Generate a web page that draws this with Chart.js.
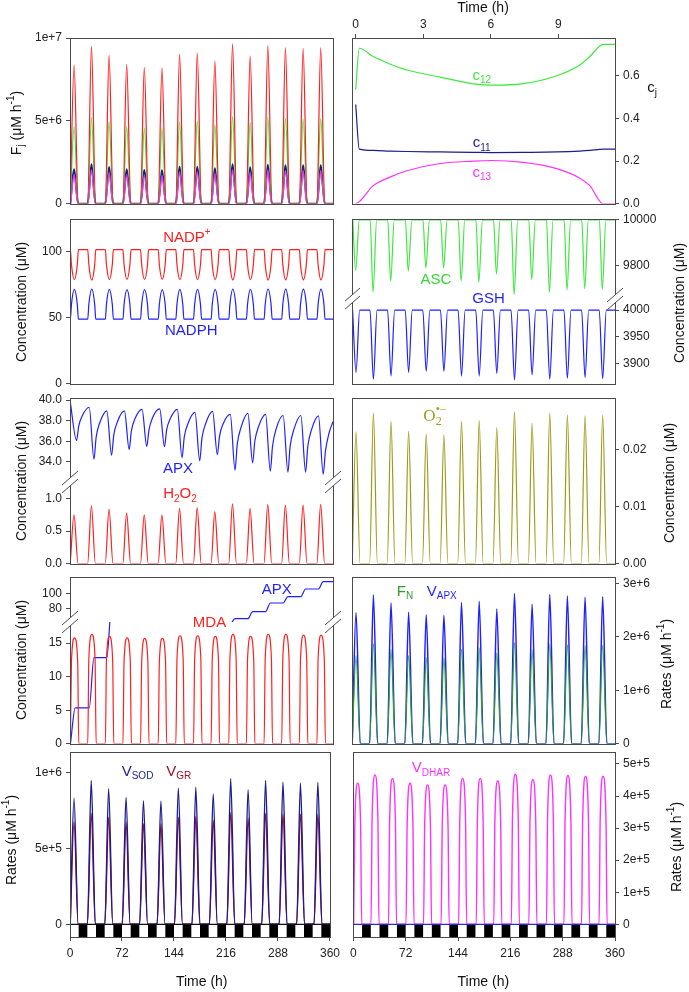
<!DOCTYPE html>
<html>
<head>
<meta charset="utf-8">
<title>Antioxidant cycles</title>
<script src="https://cdn.jsdelivr.net/npm/chart.js@4.4.1/dist/chart.umd.min.js"></script>
<style>
  body { margin: 0; width: 689px; height: 992px; background: #fff; position: relative; overflow: hidden; }
  canvas { position: absolute; }
</style>
</head>
<body>
<canvas id="p1l"></canvas>
<canvas id="p1r"></canvas>
<canvas id="p2l"></canvas>
<canvas id="p2r"></canvas>
<canvas id="p3l"></canvas>
<canvas id="p3r"></canvas>
<canvas id="p4l"></canvas>
<canvas id="p4r"></canvas>
<canvas id="p5l"></canvas>
<canvas id="p5r"></canvas>
<script>
Chart.defaults.font.family = "'Liberation Sans', Arial, sans-serif";
Chart.defaults.font.size = 12;
Chart.defaults.color = '#222';

// light / dark schedule (h)
const lightOn  = [0, 24, 48, 72, 96, 120, 144, 168, 192, 216, 240, 264, 288, 312, 336];
const darkOn   = [12, 36, 60, 84, 108, 132, 156, 180, 204, 228, 252, 276, 300, 324, 348];
const darkOff  = [24, 48, 72, 96, 120, 144, 168, 192, 216, 240, 264, 288, 312, 336, 360];
// start of each simulated cycle as it sits in the curves
const cycleT0  = [0, 23.8, 47.9, 72, 96.1, 120.3, 144.4, 168.6, 192.7, 216.9, 241, 265.2, 289.3, 313.5, 337.6];

const timeTicks = [0, 72, 144, 216, 288, 360];
const hourTicks = [0, 3, 6, 9];

// panel 1 : fluxes F_j, peak of each day
const fRed     = [8.37e6, 9.50e6, 8.97e6, 8.41e6, 8.22e6, 8.20e6, 9.01e6, 9.09e6, 8.61e6, 9.64e6, 8.91e6, 9.54e6, 9.41e6, 9.37e6, 9.41e6];
const fGreen   = [4.65e6, 5.21e6, 4.97e6, 4.67e6, 4.57e6, 4.56e6, 4.95e6, 5.01e6, 4.79e6, 5.27e6, 4.91e6, 5.23e6, 5.15e6, 5.13e6, 5.15e6];
const fNavy    = [2.08e6, 2.38e6, 2.22e6, 2.08e6, 2.04e6, 2.02e6, 2.24e6, 2.24e6, 2.14e6, 2.38e6, 2.20e6, 2.36e6, 2.32e6, 2.32e6, 2.32e6];
const fMagenta = [1.78e6, 2.05e6, 1.90e6, 1.78e6, 1.75e6, 1.73e6, 1.92e6, 1.92e6, 1.84e6, 2.05e6, 1.89e6, 2.03e6, 2.00e6, 2.00e6, 2.00e6];

// panel 1 right : c_j over the light period
const cT  = [0, 0.16, 0.78, 1.52, 2.27, 3.75, 5.23, 6.01, 7.45, 8.93, 9.96, 10.4, 11.0, 11.52];
const c12 = [0.535, 0.729, 0.69, 0.655, 0.627, 0.594, 0.562, 0.556, 0.563, 0.6, 0.651, 0.69, 0.747, 0.747];
const c11 = [0.465, 0.256, 0.25, 0.247, 0.245, 0.243, 0.241, 0.24, 0.241, 0.243, 0.247, 0.25, 0.256, 0.256];
const c13 = [0, 0.01, 0.085, 0.125, 0.155, 0.189, 0.2, 0.203, 0.194, 0.165, 0.12, 0.085, 0, 0];

// panel 2
const nadpMin   = [78.6, 78.4, 78.6, 78.8, 78.8, 78.8, 78.6, 78.6, 78.7, 78.4, 78.6, 78.4, 78.5, 78.5, 78.5];
const nadphMax  = [71.4, 71.6, 71.4, 71.2, 71.2, 71.2, 71.4, 71.4, 71.3, 71.6, 71.4, 71.6, 71.5, 71.5, 71.5];
const ascMin    = [9777, 9682, 9730, 9774, 9789, 9789, 9730, 9726, 9762, 9672, 9737, 9682, 9691, 9697, 9694];
const gshMin    = [3883, 3870, 3876, 3883, 3885, 3885, 3876, 3876, 3881, 3869, 3878, 3870, 3872, 3873, 3871];

// panel 3
const apxPeak = [40.0, 39.3, 38.95, 38.95, 39.1, 39.14, 39.1, 38.8, 38.9, 38.6, 38.7, 38.6, 38.5, 38.5, 38.47];
const apxMin  = [36.07, 34.26, 34.64, 35.2, 35.5, 35.47, 34.4, 34.1, 34.7, 33.2, 33.9, 33.1, 33.0, 33.0, 32.8];
const apxRise = [37.5, 36.4, 36.6, 37.0, 37.1, 37.1, 36.4, 36.3, 36.5, 35.7, 36.0, 35.5, 35.5, 35.5, 35.0];
const apxMid  = [38.5, 37.8, 37.9, 38.2, 38.3, 38.2, 37.7, 37.7, 37.7, 37.3, 37.4, 37.2, 37.1, 37.1, 36.8];
const apxEnd  = 37.9;
const h2o2    = [0.75, 0.89, 0.84, 0.78, 0.75, 0.75, 0.85, 0.86, 0.80, 0.92, 0.85, 0.91, 0.90, 0.90, 0.91];
const o2      = [0.0231, 0.0264, 0.0249, 0.0232, 0.0227, 0.0226, 0.0249, 0.0251, 0.0238, 0.0266, 0.0246, 0.0264, 0.0261, 0.0259, 0.026];

// panel 4
const mda      = [15.8, 16.3, 16.0, 15.8, 15.7, 15.7, 16.1, 16.1, 16.0, 16.3, 16.0, 16.3, 16.3, 16.2, 16.2];
const mdaSh    = [12.3, 12.7, 12.5, 12.3, 12.2, 12.2, 12.6, 12.6, 12.5, 12.7, 12.5, 12.7, 12.7, 12.6, 12.6];
const apxLevel = [5.35, 12.85, 20.5, 27.5, 34, 40.5, 47, 53.5, 59.5, 66, 75.5, 87, 95.5, 105.7, 115.5];
const fN       = [1.645e6, 1.87e6, 1.77e6, 1.65e6, 1.61e6, 1.61e6, 1.77e6, 1.79e6, 1.70e6, 1.89e6, 1.76e6, 1.87e6, 1.85e6, 1.84e6, 1.84e6];
const vApx     = [2.45e6, 2.78e6, 2.63e6, 2.46e6, 2.41e6, 2.40e6, 2.64e6, 2.66e6, 2.52e6, 2.81e6, 2.61e6, 2.79e6, 2.76e6, 2.74e6, 2.75e6];

// panel 5
const vSod   = [8.32e5, 9.49e5, 8.94e5, 8.36e5, 8.16e5, 8.14e5, 8.98e5, 9.05e5, 8.59e5, 9.6e5, 8.87e5, 9.49e5, 9.38e5, 9.31e5, 9.36e5];
const vGr    = [6.76e5, 7.33e5, 7.07e5, 6.74e5, 6.63e5, 6.63e5, 7.07e5, 7.11e5, 6.85e5, 7.37e5, 7.0e5, 7.33e5, 7.27e5, 7.27e5, 7.27e5];
const vDhar  = [4.40e5, 4.66e5, 4.55e5, 4.40e5, 4.35e5, 4.35e5, 4.55e5, 4.55e5, 4.47e5, 4.68e5, 4.52e5, 4.66e5, 4.64e5, 4.62e5, 4.62e5];
const dharSh = [3.1e5, 3.25e5, 3.2e5, 3.1e5, 3.05e5, 3.05e5, 3.2e5, 3.2e5, 3.15e5, 3.3e5, 3.15e5, 3.25e5, 3.25e5, 3.25e5, 3.25e5];

const RED = '#ff1f1f', GREEN = '#3ee83e', BLUE = '#1f1fff', NAVY = '#1c1c90', MAG = '#ff30ff',
      OLIVE = '#9c9c1c', DRED = '#a0102a', FGREEN = '#2e9e2e', FRAME = '#4a4a4a';

// one day of points per listed value: base - value - base (or base - shoulder - value - shoulder - base)
function cycles(base, vals, times, sh, start) {
  const pts = start ? start.slice() : [];
  vals.forEach((v, k) => {
    const o = cycleT0[k];
    times.forEach((t, j) => {
      let y = base;
      if (times.length === 3 && j === 1) y = v;
      if (times.length === 5) y = j === 2 ? v : (j === 1 || j === 3) ? (Array.isArray(sh) ? sh[k] : sh) : base;
      pts.push({ x: o + t, y });
    });
  });
  pts.push({ x: 360, y: base });
  return pts;
}

const apxSaw = [];
apxPeak.forEach((p, k) => {
  const o = cycleT0[k];
  apxSaw.push({ x: k ? o + 2.5 : 0, y: p }, { x: o + 9, y: apxMin[k] }, { x: o + 12, y: apxRise[k] }, { x: o + 17, y: apxMid[k] });
});
apxSaw.push({ x: 360, y: apxEnd });

const apxStep = [{ x: 0.6, y: 0 }];
apxLevel.forEach((v, k) => {
  const o = cycleT0[k];
  if (k) apxStep.push({ x: o + 2.5, y: apxLevel[k - 1] });
  apxStep.push({ x: o + (k ? 9 : 7.2), y: v });
});
apxStep.push({ x: 360, y: apxLevel[apxLevel.length - 1] });

const cPts = vals => cT.map((t, i) => ({ x: t, y: vals[i] }));

// ---- drawing helpers ----
function richParts(s) {
  const out = [], re = /([_^])\{([^}]*)\}/g;
  let i = 0, m;
  while ((m = re.exec(s))) {
    if (m.index > i) out.push({ t: s.slice(i, m.index), k: 0 });
    out.push({ t: m[2], k: m[1] === '_' ? 1 : 2 });
    i = re.lastIndex;
  }
  if (i < s.length) out.push({ t: s.slice(i), k: 0 });
  return out;
}

function rich(ctx, text, x, y, o) {
  const size = o.size || 15, fam = o.family || "'Liberation Sans', Arial, sans-serif";
  const font = k => (k ? Math.round(size * 0.68) : size) + 'px ' + fam;
  const ps = richParts(text);
  let w = 0, last = null;
  ps.forEach(p => {
    ctx.font = font(p.k);
    p.w = ctx.measureText(p.t).width;
    if (p.k === 2 && last && last.k === 1) { p.x = last.x; w = Math.max(w, p.x + p.w); }
    else { p.x = w; w += p.w; }
    last = p;
  });
  ctx.save();
  ctx.translate(x, y);
  if (o.rot) ctx.rotate(o.rot);
  ctx.fillStyle = o.color || '#111';
  ctx.textBaseline = 'middle';
  ctx.textAlign = 'left';
  ps.forEach(p => {
    ctx.font = font(p.k);
    ctx.fillText(p.t, p.x - w / 2, p.k === 1 ? size * 0.32 : p.k === 2 ? -size * 0.38 : 0);
  });
  ctx.restore();
}

const decoPlugin = {
  id: 'deco',
  beforeDatasetDraw(chart, args) {
    // keep each line inside its own (possibly stacked) y axis
    const a = chart.chartArea, ys = chart.scales[args.meta.yAxisID], ctx = chart.ctx;
    ctx.save();
    ctx.beginPath();
    ctx.rect(a.left, ys.top, a.right - a.left, ys.bottom - ys.top);
    ctx.clip();
  },
  afterDatasetDraw(chart) {
    chart.ctx.restore();
  },
  afterDatasetsDraw(chart, args, o) {
    const ctx = chart.ctx, a = chart.chartArea, xs = chart.scales.x;
    if (o.bars) {
      const y0 = chart.scales.y.getPixelForValue(0);
      ctx.save();
      ctx.fillStyle = '#000';
      darkOn.forEach((t, k) => {
        const x1 = xs.getPixelForValue(t), x2 = xs.getPixelForValue(darkOff[k]);
        ctx.fillRect(x1, y0, x2 - x1, a.bottom - y0);
      });
      ctx.strokeStyle = o.bars;
      ctx.lineWidth = 1.2;
      ctx.beginPath();
      ctx.moveTo(a.left, y0);
      ctx.lineTo(a.right, y0);
      ctx.stroke();
      ctx.restore();
    }
    ctx.save();
    ctx.strokeStyle = FRAME;
    ctx.lineWidth = 1;
    ctx.strokeRect(Math.round(a.left) + 0.5, Math.round(a.top) + 0.5, Math.round(a.right - a.left), Math.round(a.bottom - a.top));
    if (o.brk) {
      const by = Math.round(chart.scales[o.brk].top);
      [a.left, a.right].forEach(bx => {
        ctx.fillStyle = '#fff';
        ctx.beginPath();
        ctx.moveTo(bx - 8, by + 3); ctx.lineTo(bx + 8, by - 11);
        ctx.lineTo(bx + 8, by - 3); ctx.lineTo(bx - 8, by + 11);
        ctx.closePath();
        ctx.fill();
        ctx.beginPath();
        ctx.moveTo(bx - 8, by + 3); ctx.lineTo(bx + 8, by - 11);
        ctx.moveTo(bx - 8, by + 11); ctx.lineTo(bx + 8, by - 3);
        ctx.stroke();
      });
    }
    ctx.restore();
    (o.labels || []).forEach(l => rich(ctx, l.text, xs.getPixelForValue(l.x), chart.scales[l.axis || 'y'].getPixelForValue(l.y), l));
    (o.titles || []).forEach(t => rich(ctx, t.text, t.px - o.ox, t.py - o.oy, t));
  }
};

function yAxis(min, max, ticks, labels, pos, extra) {
  return Object.assign({
    type: 'linear', position: pos, min, max,
    afterBuildTicks: s => { s.ticks = ticks.map(v => ({ value: v })); },
    border: { display: false },
    grid: { drawOnChartArea: false, tickLength: 4, color: FRAME, tickColor: FRAME },
    ticks: { padding: 4, autoSkip: false, callback: v => labels[ticks.indexOf(v)] }
  }, extra || {});
}

const xHidden = () => ({ type: 'linear', min: 0, max: 360, display: false });
const xBottom = () => ({
  type: 'linear', min: 0, max: 360, position: 'bottom',
  afterBuildTicks: s => { s.ticks = timeTicks.map(v => ({ value: v })); },
  border: { display: false },
  grid: { drawOnChartArea: false, tickLength: 4, color: FRAME, tickColor: FRAME },
  ticks: { padding: 5, autoSkip: false, maxRotation: 0 }
});

const line = (data, color, yAxisID, bw) => ({ data, borderColor: color, yAxisID: yAxisID || 'y', borderWidth: bw || 1.2 });
const ROT = -Math.PI / 2;

function panel(id, box, plot, scales, datasets, deco) {
  const cv = document.getElementById(id);
  cv.width = box[2];
  cv.height = box[3];
  cv.style.left = box[0] + 'px';
  cv.style.top = box[1] + 'px';
  deco.ox = box[0];
  deco.oy = box[1];
  const pad = { left: plot[0] - box[0], top: plot[1] - box[1], right: box[0] + box[2] - plot[2], bottom: box[1] + box[3] - plot[3] };
  // a shown axis takes exactly the room between the canvas edge and the plot
  const used = {};
  Object.values(scales).forEach(s => {
    if (s.display === false) return;
    const side = s.position, size = pad[side];
    used[side] = true;
    if (side === 'left' || side === 'right') s.afterFit = sc => { sc.width = size; };
    else s.afterFit = sc => { sc.height = size; };
  });
  Object.keys(used).forEach(side => { pad[side] = 0; });
  return new Chart(cv, {
    type: 'line',
    data: { datasets },
    options: {
      responsive: false, animation: false, events: [],
      layout: { padding: pad },
      elements: { point: { radius: 0 }, line: { borderWidth: 1.2, cubicInterpolationMode: 'monotone' } },
      plugins: { legend: { display: false }, tooltip: { enabled: false }, deco },
      scales
    },
    plugins: [decoPlugin]
  });
}

// ---- row 1 ----
panel('p1l', [0, 0, 345, 215], [70, 38, 333, 207],
  { x: xHidden(), y: yAxis(0, 1e7, [0, 5e6, 1e7], ['0', '5e+6', '1e+7'], 'left') },
  [line(cycles(0, fRed, [0.3, 5.6, 11.3]), RED),
   line(cycles(0, fGreen, [0.3, 5.6, 11.3]), GREEN),
   line(cycles(0, fMagenta, [1, 5.6, 10.6]), MAG),
   line(cycles(0, fNavy, [0.3, 5.6, 11.3]), NAVY, 'y', 2)],
  { titles: [{ text: 'F_{j} (μM h^{-1})', px: 17, py: 123, rot: ROT, size: 14 }] });

panel('p1r', [345, 0, 344, 215], [352, 38, 615, 205],
  { x: { type: 'linear', position: 'top', min: -0.164, max: 11.52,
         afterBuildTicks: s => { s.ticks = hourTicks.map(v => ({ value: v })); },
         border: { display: false },
         grid: { drawOnChartArea: false, tickLength: 4, color: FRAME, tickColor: FRAME },
         ticks: { padding: 2, autoSkip: false, maxRotation: 0 } },
    y: yAxis(0, 0.777, [0, 0.2, 0.4, 0.6], ['0.0', '0.2', '0.4', '0.6'], 'right') },
  [line(cPts(c12), GREEN), line(cPts(c11), NAVY), line(cPts(c13), MAG)],
  { labels: [{ text: 'c_{12}', x: 5.6, y: 0.6, color: GREEN }, { text: 'c_{11}', x: 5.6, y: 0.285, color: NAVY }, { text: 'c_{13}', x: 5.6, y: 0.145, color: MAG }],
    titles: [{ text: 'Time (h)', px: 483, py: 8, size: 14 }, { text: 'c_{j}', px: 652, py: 88, size: 15 }] });

// ---- row 2 ----
panel('p2l', [0, 200, 345, 195], [70, 219, 333, 385],
  { x: xHidden(), y: yAxis(0, 124.5, [0, 50, 100], ['0', '50', '100'], 'left') },
  [line(cycles(101.3, nadpMin, [0.5, 2, 6, 10, 11.5], 90, [{ x: 0, y: 40 }, { x: 0.2, y: 101.3 }]), RED),
   line(cycles(48.8, nadphMax, [0.5, 2, 6, 10, 11.5], 60, [{ x: 0, y: 110 }, { x: 0.2, y: 48.8 }]), BLUE)],
  { labels: [{ text: 'NADP^{+}', x: 160, y: 110, color: RED }, { text: 'NADPH', x: 166, y: 40, color: BLUE }],
    titles: [{ text: 'Concentration (μM)', px: 22, py: 302, rot: ROT, size: 14 }] });

panel('p2r', [345, 200, 344, 195], [352, 219, 615, 385],
  { x: xHidden(),
    ya: yAxis(9650, 10004, [9800, 10000], ['9800', '10000'], 'right', { stack: 'c', stackWeight: 81 }),
    yg: yAxis(3861.4, 4020, [3900, 3950, 4000], ['3900', '3950', '4000'], 'right', { stack: 'c', stackWeight: 85 }) },
  [line(cycles(10000, ascMin, [1, 5, 10]), GREEN, 'ya'),
   line(cycles(4000, gshMin, [0.8, 5.5, 10.5]), BLUE, 'yg')],
  { brk: 'yg',
    labels: [{ text: 'ASC', x: 115, y: 9737, axis: 'ya', color: '#36d836' }, { text: 'GSH', x: 187, y: 4021, axis: 'yg', color: BLUE }],
    titles: [{ text: 'Concentration (μM)', px: 680, py: 303, rot: ROT, size: 14 }] });

// ---- row 3 ----
panel('p3l', [0, 380, 345, 195], [70, 398, 333, 565],
  { x: xHidden(),
    yb: yAxis(0, 1.248, [0, 0.5, 1], ['0.0', '0.5', '1.0'], 'left', { stack: 'c', stackWeight: 82 }),
    yt: yAxis(32.0, 40.2, [34, 36, 38, 40], ['34.0', '36.0', '38.0', '40.0'], 'left', { stack: 'c', stackWeight: 85 }) },
  [line(apxSaw, BLUE, 'yt'), line(cycles(0, h2o2, [0.3, 5.5, 11]), RED, 'yb')],
  { brk: 'yb',
    labels: [{ text: 'APX', x: 148, y: 33.33, axis: 'yt', color: BLUE }, { text: 'H_{2}O_{2}', x: 150.6, y: 1.065, axis: 'yb', color: RED }],
    titles: [{ text: 'Concentration (μM)', px: 22, py: 481, rot: ROT, size: 14 }] });

panel('p3r', [345, 380, 344, 195], [352, 398, 615, 565],
  { x: xHidden(), y: yAxis(0, 0.02904, [0, 0.01, 0.02], ['0.00', '0.01', '0.02'], 'right') },
  [line(cycles(0, o2, [0.3, 5.5, 11]), OLIVE)],
  { labels: [{ text: 'O_{2}^{•−}', x: 113.6, y: 0.0258, color: OLIVE, size: 17, family: "'Liberation Serif', 'DejaVu Serif', serif" }],
    titles: [{ text: 'Concentration (μM)', px: 670.5, py: 483, rot: ROT, size: 14 }] });

// ---- row 4 ----
panel('p4l', [0, 560, 345, 195], [70, 577, 333, 744],
  { x: xHidden(),
    yb: yAxis(0, 18.16, [0, 5, 10, 15], ['0', '5', '10', '15'], 'left', { stack: 'c', stackWeight: 122 }),
    yt: yAxis(61.7, 121.7, [80, 100], ['80', '100'], 'left', { stack: 'c', stackWeight: 45 }) },
  [line(cycles(0, mda, [0.5, 2, 6.2, 10.5, 12], mdaSh), RED, 'yb'),
   line(apxStep, BLUE, 'yb'),
   line(apxStep, BLUE, 'yt')],
  { brk: 'yb',
    labels: [{ text: 'APX', x: 283, y: 104.4, axis: 'yt', color: BLUE }, { text: 'MDA', x: 191, y: 60, axis: 'yt', color: RED }],
    titles: [{ text: 'Concentration (μM)', px: 22, py: 660, rot: ROT, size: 14 }] });

panel('p4r', [345, 560, 344, 195], [352, 577, 615, 744],
  { x: xHidden(), y: yAxis(0, 3.117e6, [0, 1e6, 2e6, 3e6], ['0', '1e+6', '2e+6', '3e+6'], 'right') },
  [line(cycles(0, fN, [0.3, 5.5, 11.3]), FGREEN), line(cycles(0, vApx, [0.3, 5.5, 11.3]), BLUE, 'y', 1.5)],
  { labels: [{ text: 'F_{N}', x: 72.5, y: 2.84e6, color: FGREEN }, { text: 'V_{APX}', x: 122.8, y: 2.84e6, color: BLUE }],
    titles: [{ text: 'Rates (μM h^{-1})', px: 666.7, py: 664, rot: ROT, size: 14 }] });

// ---- row 5 ----
panel('p5l', [0, 740, 345, 252], [70, 752, 333, 937],
  { x: xBottom(), y: yAxis(-83800, 1.1365e6, [0, 5e5, 1e6], ['0', '5e+5', '1e+6'], 'left') },
  [line(cycles(0, vSod, [0.3, 5.6, 11.3]), NAVY, 'y', 1.4), line(cycles(0, vGr, [0.3, 5.6, 11.3]), DRED, 'y', 1.4)],
  { bars: '#111',
    labels: [{ text: 'V_{SOD}', x: 93.5, y: 1.008e6, color: NAVY }, { text: 'V_{GR}', x: 150.6, y: 1.008e6, color: DRED }],
    titles: [{ text: 'Rates (μM h^{-1})', px: 12, py: 840, rot: ROT, size: 14 }, { text: 'Time (h)', px: 201.7, py: 981.7, size: 14 }] });

panel('p5r', [345, 740, 344, 252], [352, 752, 615, 937],
  { x: xBottom(), y: yAxis(-39600, 5.374e5, [0, 1e5, 2e5, 3e5, 4e5, 5e5], ['0', '1e+5', '2e+5', '3e+5', '4e+5', '5e+5'], 'right') },
  [line(cycles(0, vDhar, [0.5, 2, 6, 10, 11.5], dharSh), MAG, 'y', 1.4)],
  { bars: '#2a2ad0',
    labels: [{ text: 'V_{DHAR}', x: 106.8, y: 4.87e5, color: MAG }],
    titles: [{ text: 'Rates (μM h^{-1})', px: 677, py: 847, rot: ROT, size: 14 }, { text: 'Time (h)', px: 483.3, py: 981.7, size: 14 }] });
</script>
</body>
</html>
